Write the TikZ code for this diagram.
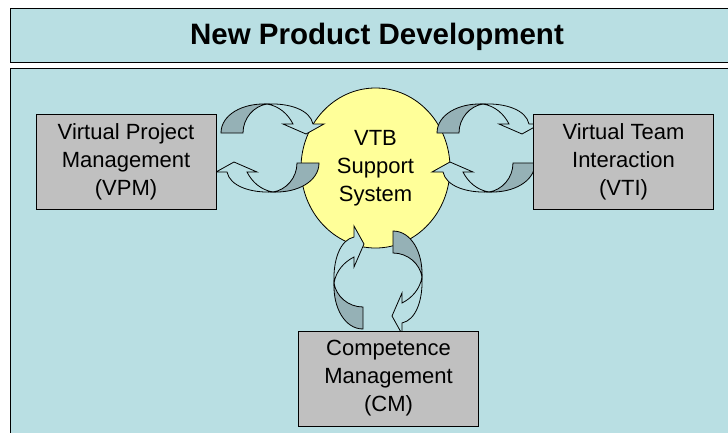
\documentclass[tikz,border=0pt]{standalone}
\usepackage{fontspec}
\setmainfont{Liberation Sans}
\usepackage{tikz}
\usetikzlibrary{shapes.geometric}

\definecolor{paneblue}{RGB}{185,223,227}
\definecolor{facegray}{RGB}{149,177,182}
\definecolor{boxgray}{RGB}{192,192,192}
\definecolor{vtbyellow}{RGB}{255,255,153}

\tikzset{
  unitbox/.style={draw, fill=boxgray, align=center, minimum width=180pt, minimum height=95pt,
    font=\fontsize{22}{28}\selectfont},
  halfturn/.pic={
    \draw[fill=facegray] (-49,-15) .. controls (-49,-33) and (-28,-45) .. (-3,-44)
      .. controls (-16,-42) and (-27,-30) .. (-27,-15) -- cycle;
    \draw[fill=paneblue] (-3,-44) .. controls (20,-45) and (40,-38) .. (43,-24)
      -- (54,-24) -- (36,-14) -- (13,-24) -- (23,-24)
      .. controls (18,-34) and (9,-42) .. (-3,-44) -- cycle;
  },
  cyclepair/.pic={
    \pic[transform shape] {halfturn};
    \pic[transform shape, rotate=180] {halfturn};
  }
}

\begin{document}
\begin{tikzpicture}[x=1pt, y=-1pt, line width=0.8pt]
  \useasboundingbox (0,0) rectangle (728,432);
  \clip (0,0) rectangle (728,432);

  \node[draw, fill=paneblue, minimum width=740pt, minimum height=54pt, anchor=north west] (title) at (10,8) {};
  \node[font=\fontsize{29.5}{32}\selectfont\bfseries] (titletext) at (377,37) {New Product Development};
  \node[draw, fill=paneblue, minimum width=740pt, minimum height=400pt, anchor=north west] (pane) at (10,68) {};

  \node[draw, ellipse, fill=vtbyellow, minimum width=149pt, minimum height=160pt, inner sep=0pt,
    align=center, font=\fontsize{22}{28}\selectfont] (vtb) at (375.5,168) {VTB\\Support\\System};

  \pic at (270,148) {cyclepair};
  \pic at (486,148) {cyclepair};
  \pic[rotate=-90, transform shape] at (378,280) {cyclepair};

  \node[unitbox] (vpm) at (126,161.5) {Virtual Project\\Management\\(VPM)};
  \node[unitbox] (vti) at (623.5,162) {Virtual Team\\Interaction\\(VTI)};
  \node[unitbox] (cm) at (388.5,378.5) {Competence\\Management\\(CM)};
\end{tikzpicture}
\end{document}
